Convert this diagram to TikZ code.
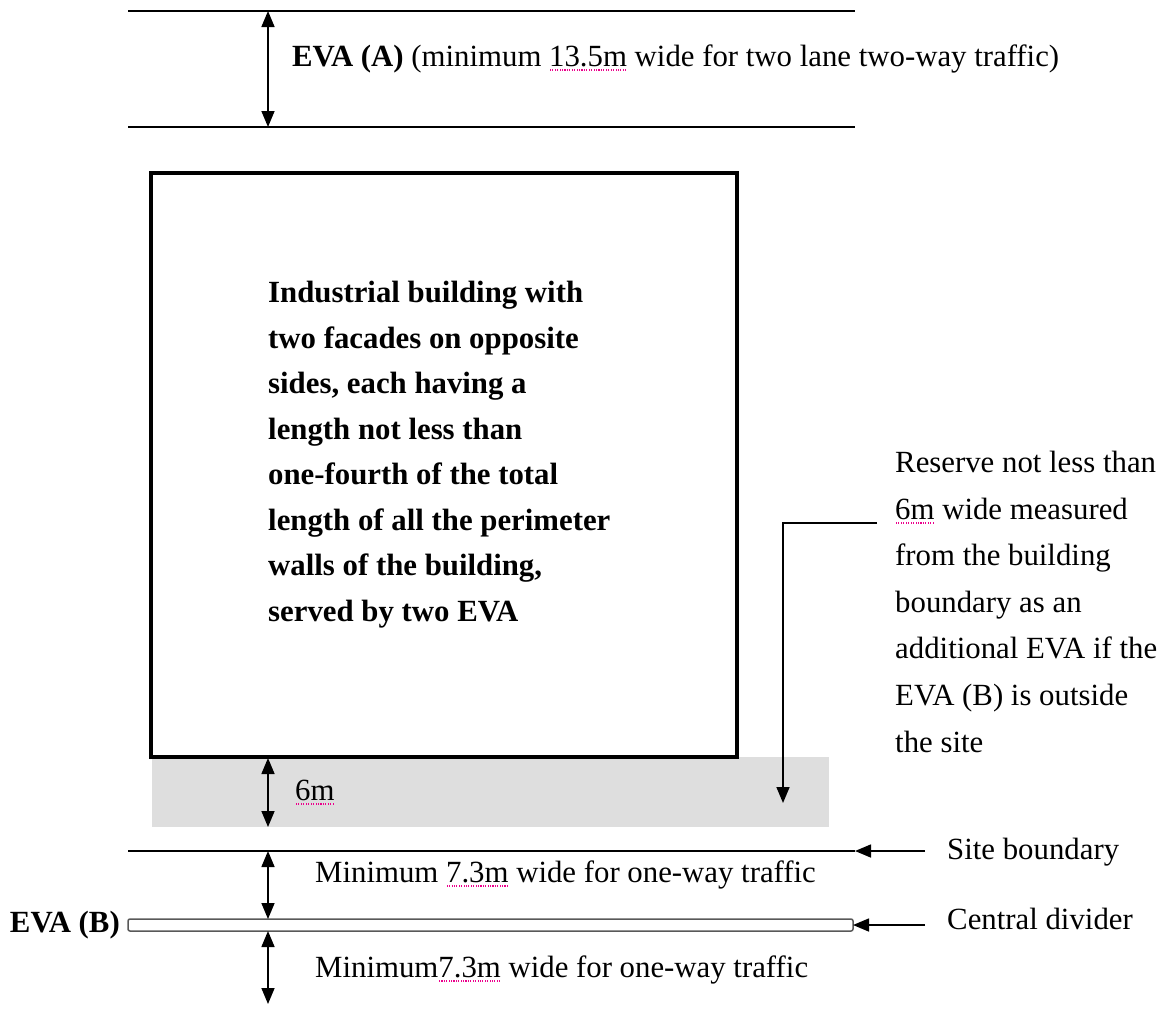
\documentclass[tikz,border=0pt]{standalone}
\usepackage{fontspec}
\setmainfont{Liberation Serif}
\usetikzlibrary{arrows.meta}
\newsavebox{\spellbox}
\newcommand{\spellmark}[1]{\sbox{\spellbox}{#1}\rlap{\raisebox{-4.5pt}{\textcolor{magenta}{\hbox to \wd\spellbox{\xleaders\hbox to 2.4pt{\hss\rule{1.1pt}{1.1pt}\hss}\hfill}}}}\usebox{\spellbox}}
\begin{document}
\begin{tikzpicture}[x=1pt,y=-1pt]
\tikzstyle{every node}+=[inner sep=0pt,font=\fontsize{30.8}{45.5}\selectfont]
\tikzstyle{road}=[line width=1.5pt]
\tikzstyle{dim}=[line width=1.6pt,{Triangle[length=16pt,width=13pt]}-{Triangle[length=16pt,width=13pt]}]
\tikzstyle{pointer}=[line width=1.6pt,-{Triangle[length=16pt,width=13pt]}]
\useasboundingbox (0,0) rectangle (1174,1012);

% EVA (A)
\draw [road] (128,11) -- (855,11);
\draw [road] (128,127) -- (855,127);
\coordinate (aTop) at (268,11);
\coordinate (aBot) at (268,127);
\draw [dim] (aTop) -- (aBot);
\draw (292,66) node[anchor=base west] (evaA) {\textbf{EVA (A)} (minimum \spellmark{13.5m} wide for two lane two-way traffic)};

% building and 6m reserve (base = last line)
\fill [black!13] (152,757) rectangle (829,827);
\draw [line width=4pt] (151,173) rectangle (737,757);
\draw (268,621) node[anchor=base west,align=left,font=\bfseries\fontsize{30.8}{45.5}\selectfont] (bldg) {Industrial building with\\two facades on opposite\\sides, each having a\\length not less than\\one-fourth of the total\\length of all the perimeter\\walls of the building,\\served by two EVA};
\coordinate (rTop) at (268,758);
\coordinate (rBot) at (268,827);
\draw [dim] (rTop) -- (rBot);
\draw (295,800) node[anchor=base west] (six) {\spellmark{6m}};

\draw (895,752) node[anchor=base west,align=left,font=\fontsize{30.8}{46.6}\selectfont] (reserve) {Reserve not less than\\\spellmark{6m} wide measured\\from the building\\boundary as an\\additional EVA if the\\EVA (B) is outside\\the site};
\coordinate (lead) at (877,523);
\coordinate (leadEnd) at (783,803);
\draw [pointer] (lead) -| (leadEnd);

% EVA (B)
\draw [road] (128,851) -- (855,851);
\draw [line width=1.5pt,draw=black!65,fill=white,rounded corners=2pt] (128,919) rectangle (853,931);
\coordinate (bTop) at (268,851);
\coordinate (bMid) at (268,919);
\coordinate (bLow) at (268,931);
\coordinate (bBot) at (268,1004);
\draw [dim] (bTop) -- (bMid);
\draw [dim] (bLow) -- (bBot);
\draw (315,882) node[anchor=base west] (lane1) {Minimum \spellmark{7.3m} wide for one-way traffic};
\draw (315,977) node[anchor=base west] (lane2) {Minimum\spellmark{7.3m} wide for one-way traffic};
\draw (120,932) node[anchor=base east] (evaB) {\textbf{EVA (B)}};

\draw (947,859) node[anchor=base west] (site) {Site boundary};
\draw (947,929) node[anchor=base west] (divider) {Central divider};
\coordinate (siteTail) at (925,851);
\coordinate (siteHead) at (855,851);
\coordinate (divTail) at (925,925);
\coordinate (divHead) at (853,925);
\draw [pointer] (siteTail) -- (siteHead);
\draw [pointer] (divTail) -- (divHead);
\end{tikzpicture}
\end{document}
